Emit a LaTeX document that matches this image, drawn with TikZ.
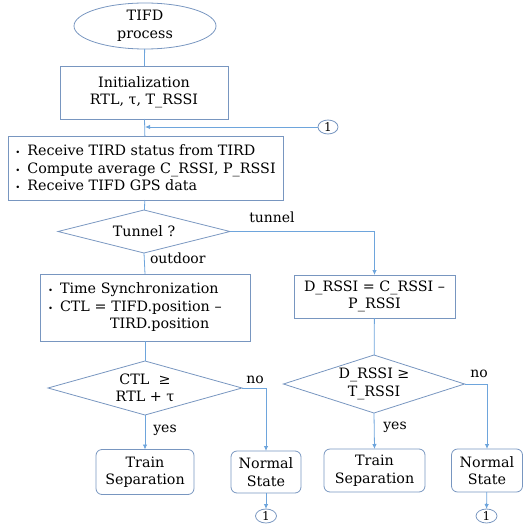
\documentclass[tikz,border=0pt]{standalone}
\usepackage{fontspec}
\setmainfont{DejaVu Serif}
\usetikzlibrary{shapes.geometric,arrows.meta}
\definecolor{boxc}{RGB}{120,150,192}
\definecolor{linec}{RGB}{110,165,220}
\newcommand{\bul}{{\fontsize{8.5}{8}\selectfont\textbullet}\hspace{7pt}}
\begin{document}
\begin{tikzpicture}[x=1pt,y=-1pt,
  font=\fontsize{14.3}{17.5}\selectfont,
  every node/.style={inner sep=0pt, outer sep=0pt},
  box/.style={draw=boxc, line width=0.8pt, rectangle, align=center},
  rbox/.style={draw=boxc, line width=0.8pt, rectangle, rounded corners=6pt, align=center},
  dia/.style={draw=boxc, line width=0.8pt, diamond, aspect=3.5, align=center},
  oval/.style={draw=boxc, line width=0.8pt, ellipse, align=center},
  conn/.style={draw=linec, line width=0.8pt},
  arr/.style={conn, -{Latex[length=5pt,width=4.5pt]}},
  lab/.style={font=\fontsize{14}{16}\selectfont}
]
\useasboundingbox (0,0) rectangle (532,524);

\node[oval, minimum width=142, minimum height=46] (start) at (145,26) {TIFD\\process};
\node[box, minimum width=168, minimum height=53] (init) at (144,92.5) {Initialization\\RTL, τ, T\_RSSI};
\node[oval, minimum width=20, minimum height=14, font=\fontsize{12}{12}\selectfont] (c0) at (328,127) {1};
\node[box, minimum width=275, minimum height=64, align=left] (recv) at (145.5,168)
  {\bul Receive TIRD status from TIRD\\\bul Compute average C\_RSSI, P\_RSSI\\\bul Receive TIFD GPS data};
\node[dia, minimum width=172, minimum height=43] (tun) at (144,231.5) {Tunnel ?};
\node[box, minimum width=210, minimum height=67, text width=194, align=left] (time) at (145,307.5)
  {\bul Time Synchronization\\\bul CTL = TIFD.position –\\\hspace{62pt}TIRD.position};
\node[box, minimum width=161, minimum height=43] (drssi) at (374.5,296.5) {D\_RSSI = C\_RSSI –\\P\_RSSI};
\node[dia, minimum width=194, minimum height=54] (ctl) at (145,388) {CTL\ \ ≥\\RTL + τ};
\node[dia, minimum width=176, minimum height=58] (dd) at (374,384) {D\_RSSI ≥\\T\_RSSI};
\node[rbox, minimum width=98, minimum height=45] (ts1) at (145,472) {Train\\Separation};
\node[rbox, minimum width=70, minimum height=42] (ns1) at (266,472) {Normal\\State};
\node[rbox, minimum width=101, minimum height=43] (ts2) at (374.5,470.5) {Train\\Separation};
\node[rbox, minimum width=71, minimum height=43] (ns2) at (487,470.5) {Normal\\State};
\node[oval, minimum width=21, minimum height=14, font=\fontsize{12}{12}\selectfont] (c1) at (266,516) {1};
\node[oval, minimum width=21, minimum height=14, font=\fontsize{12}{12}\selectfont] (c2) at (486.5,516) {1};

\coordinate (j0) at (145,127);

\node[lab] (ltun) at (272,217) {tunnel};
\node[lab, anchor=west] (lout) at (150,258) {outdoor};
\node[lab] (lno1) at (255,380) {no};
\node[lab] (lno2) at (479,374) {no};
\node[lab] (lyes1) at (165,430) {yes};
\node[lab] (lyes2) at (395,427) {yes};

\draw[conn] (start) -- (init);
\draw[conn] (init) -- (recv);
\draw[arr] (c0) -- (j0);
\draw[conn] (recv) -- (tun);
\draw[arr] (tun.east) -| (drssi.north);
\draw[conn] (tun.south) -- (time.north);
\draw[conn] (time) -- (ctl);
\draw[arr] (ctl.south) -- (ts1.north);
\draw[arr] (ctl.east) -| (ns1.north);
\draw[conn] (drssi) -- (dd);
\draw[arr] (dd.south) -- (ts2.north);
\draw[arr] (dd.east) -| (ns2.north);
\draw[arr] (ns1) -- (c1);
\draw[arr] (ns2) -- (c2);
\end{tikzpicture}
\end{document}
